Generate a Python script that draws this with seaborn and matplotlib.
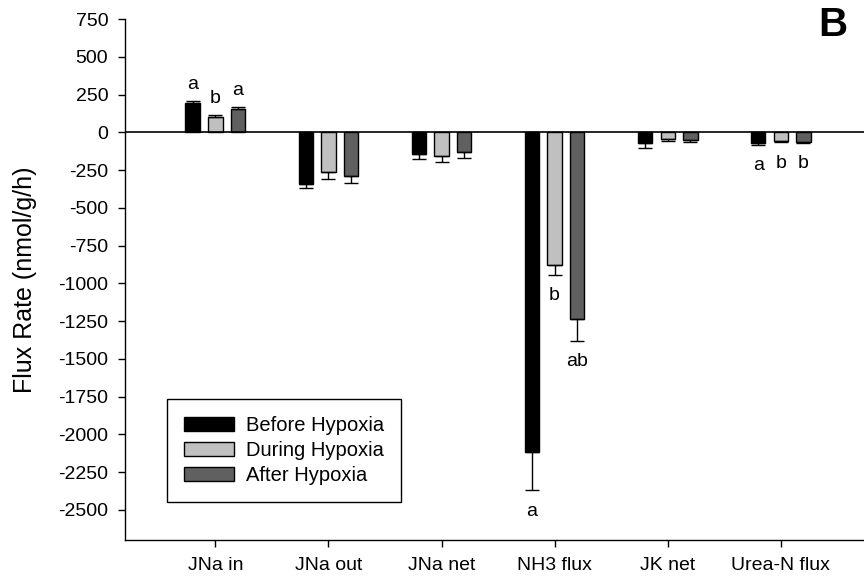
import matplotlib
matplotlib.use("Agg")
import matplotlib.pyplot as plt
import seaborn as sns
import pandas as pd

# Flux measurements (nmol/g/h): mean and SE for each period
categories = ["JNa in", "JNa out", "JNa net", "NH3 flux", "JK net", "Urea-N flux"]
periods = ["Before Hypoxia", "During Hypoxia", "After Hypoxia"]

before = [195, -340, -142, -2114, -72, -69]
before_se = [15, 30, 38, 258, 30, 14]
during = [102, -266, -160, -876, -46, -59]
during_se = [13, 44, 40, 66, 15, 8]
after = [155, -290, -134, -1239, -54, -65]
after_se = [13, 44, 37, 142, 9, 7]

# Significance letters (empty = none shown)
before_letters = ["a", "", "", "a", "", "a"]
during_letters = ["b", "", "", "b", "", "b"]
after_letters = ["a", "", "", "ab", "", "b"]

yticks = [750, 500, 250, 0, -250, -500, -750, -1000, -1250, -1500,
          -1750, -2000, -2250, -2500]

colors = ["#000000", "#c0c0c0", "#606060"]

means = [before, during, after]
ses = [before_se, during_se, after_se]
letters = [before_letters, during_letters, after_letters]

df = pd.DataFrame({
    "category": categories * 3,
    "period": [p for p in periods for _ in categories],
    "flux": before + during + after,
})

sns.set_style("ticks")
plt.rcParams["font.family"] = ["Liberation Sans", "DejaVu Sans"]
plt.rcParams["text.color"] = "black"
plt.rcParams["axes.labelcolor"] = "black"
plt.rcParams["xtick.color"] = "black"
plt.rcParams["ytick.color"] = "black"
plt.rcParams["axes.edgecolor"] = "black"

fig = plt.figure(figsize=(8.64, 5.84), dpi=100)
ax = fig.add_axes([125 / 864, 1 - 540 / 584, 1 - 125 / 864, (540 - 19) / 584])

sns.barplot(data=df, x="category", y="flux", hue="period", order=categories,
            hue_order=periods, palette=colors, width=0.6, gap=0.36,
            errorbar=None, edgecolor="black", linewidth=1.0, ax=ax)

# One-sided SE bars and letters
for container, m, s, lab in zip(ax.containers, means, ses, letters):
    for bar, val, err, txt in zip(container, m, s, lab):
        xc = bar.get_x() + bar.get_width() / 2
        if val >= 0:
            yerr = [[0], [err]]
        else:
            yerr = [[err], [0]]
        ax.errorbar([xc], [val], yerr=yerr, fmt="none", ecolor="black",
                    elinewidth=1.0, capsize=5, capthick=1.0, zorder=3)
        if txt:
            end = val + err if val >= 0 else val - err
            off = 11.5 if val >= 0 else -15
            ax.annotate(txt, (xc, end), xytext=(0, off), textcoords="offset points",
                        ha="center", va="center", fontsize=14, color="black")

ax.axhline(0, color="black", lw=1.2, zorder=4)

ax.set_ylim(-2700, 750)
ax.set_xlim(-0.798, 5.735)
ax.set_yticks(yticks)
ax.set_yticklabels([str(t) for t in yticks])
ax.tick_params(axis="both", direction="out", length=5, width=1.0, colors="black",
               labelsize=14, pad=7)
ax.set_xlabel("")
ax.set_ylabel("Flux Rate (nmol/g/h)", fontsize=18, color="black")
ax.yaxis.set_label_coords(-0.119, 0.5)

sns.despine(ax=ax, top=True, right=True)
for side in ["left", "bottom"]:
    ax.spines[side].set_color("black")
    ax.spines[side].set_linewidth(1.0)

leg = ax.legend(loc="upper left", bbox_to_anchor=((166.7 - 125) / 739, (540 - 399) / 521),
                borderaxespad=0, fontsize=14.5, frameon=True, fancybox=False,
                edgecolor="black", framealpha=1, handlelength=2.5, handleheight=0.72,
                handletextpad=0.6, labelspacing=0.3, borderpad=0.85)
leg.get_frame().set_linewidth(1.0)
for t in leg.get_texts():
    t.set_color("black")
for h in leg.legend_handles:
    h.set_edgecolor("black")
    h.set_linewidth(1.0)

fig.text(833 / 864, 1 - 25 / 584, "B", fontsize=29, fontweight="bold",
         ha="center", va="center", color="black")

fig.savefig("out.png", dpi=100)
